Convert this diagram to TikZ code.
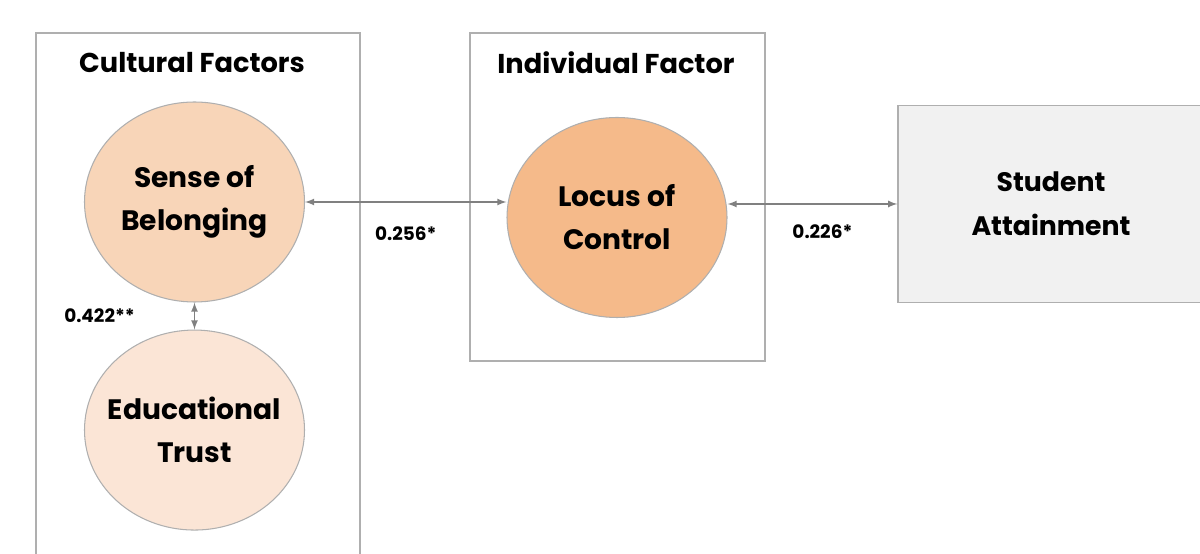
\documentclass[tikz,border=0pt]{standalone}
\usepackage{fontspec}
\setmainfont{Poppins}
\usepackage{tikz}
\usetikzlibrary{arrows,positioning,shapes}

\definecolor{boxGray}{RGB}{175,175,175}
\definecolor{lineGray}{RGB}{128,128,128}
\definecolor{peachLight}{RGB}{251,229,214}
\definecolor{peachMid}{RGB}{248,213,184}
\definecolor{peachDark}{RGB}{245,186,138}
\definecolor{attainFill}{RGB}{241,241,241}

\tikzset{
  factor/.style={ellipse, draw=boxGray, semithick, minimum width=4.4cm, minimum height=4cm,
    label={[align=center, font=\bfseries\fontsize{16}{24.5}\selectfont]center:{#1}}},
  group/.style={draw=boxGray, thick, inner sep=0pt},
  grouptitle/.style={font=\bfseries\fontsize{15.5}{18}\selectfont},
  coef/.style={font=\bfseries\fontsize{10.5}{12}\selectfont},
  link/.style={<->, >=latex, draw=lineGray, thick}
}

\begin{document}
\begin{tikzpicture}
    \useasboundingbox (0,0) rectangle (24,11.06);
    % group boxes
    \node[group, minimum width=6.48cm, minimum height=11.5cm] (culturalBox) at (3.96,4.65) {};
    \node[group, minimum width=5.9cm, minimum height=6.56cm] (indivBox) at (12.35,7.12) {};
    \node[grouptitle] (culturalTitle) at (3.84,9.8) {Cultural Factors};
    \node[grouptitle] (indivTitle) at (12.32,9.8) {Individual Factor};
    % factors
    \node[factor={Sense of\\Belonging}, fill=peachMid] (belonging) at (3.89,7.02) {};
    \node[factor={Educational\\Trust}, fill=peachLight, below=0.54cm of belonging] (trust) {};
    \node[factor={Locus of\\Control}, fill=peachDark] (locus) at (12.34,6.71) {};
    \node[draw=boxGray, thick, fill=attainFill, minimum width=6.12cm, minimum height=3.94cm, align=center, font=\bfseries\fontsize{15.2}{25}\selectfont] (attainment) at (21.02,6.98) {Student\\Attainment};
    % links
    \draw[link] (belonging.east) -- (belonging.east -| locus.west) node[midway, yshift=-0.64cm, coef] (coefBL) {0.256*};
    \draw[link] (attainment.west -| locus.east) -- (attainment.west) node[midway, xshift=0.2cm, yshift=-0.56cm, coef] (coefLA) {0.226*};
    \draw[link] (belonging.south) -- (trust.north) node[midway, xshift=-1.9cm, coef] (coefBT) {0.422**};
\end{tikzpicture}
\end{document}
